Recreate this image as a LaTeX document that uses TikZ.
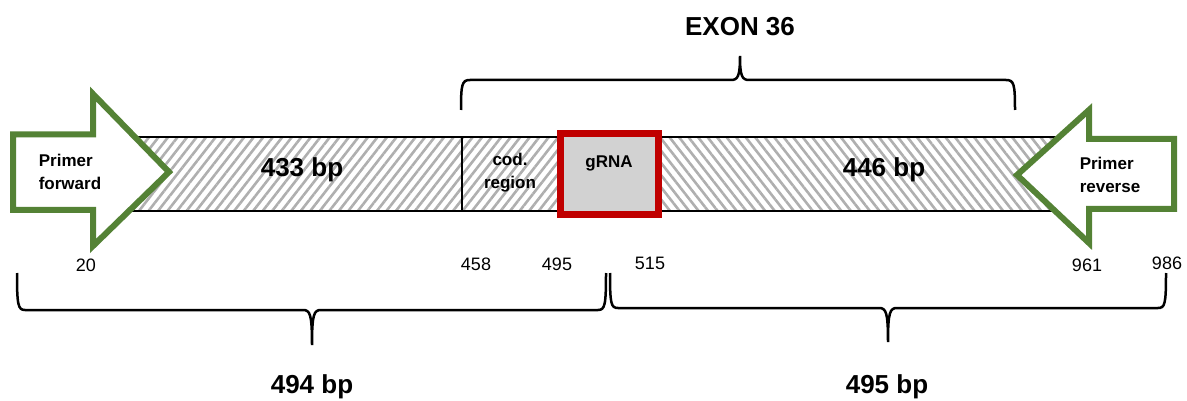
\documentclass[tikz,border=0pt]{standalone}
\usepackage{fontspec}
\setmainfont{Liberation Sans}
\usetikzlibrary{patterns.meta}
\definecolor{pgreen}{RGB}{84,130,53}
\definecolor{gred}{RGB}{192,0,0}
\definecolor{gfill}{RGB}{210,210,210}
\definecolor{hatchc}{RGB}{175,175,175}
\begin{document}
\begin{tikzpicture}[x=1pt,y=-1pt,
  big/.style={font=\bfseries\fontsize{26}{30}\selectfont, inner sep=0pt},
  lab/.style={font=\bfseries\fontsize{17}{23}\selectfont, align=center, inner sep=0pt},
  labl/.style={font=\bfseries\fontsize{17}{23}\selectfont, align=left, inner sep=0pt},
  num/.style={font=\fontsize{18}{20}\selectfont, inner sep=0pt},
  bracel/.style={line width=2.5pt, black},
  arrowline/.style={draw=pgreen, fill=white, line width=6pt, line join=miter},
  hatchfw/.style={pattern={Lines[angle=52,distance=7.5pt,line width=2.6pt]}, pattern color=hatchc},
  hatchbw/.style={pattern={Lines[angle=-52,distance=7.5pt,line width=2.6pt]}, pattern color=hatchc}]
\useasboundingbox (0,0) rectangle (1187,401);
% bar hatching
\path[hatchfw] (90,137) rectangle (560,211);
\path[hatchbw] (660,137) rectangle (1090,211);
\draw[line width=2.6pt] (90,137) -- (1090,137) (90,211) -- (1090,211);
\draw[line width=2pt] (461.5,137) -- (461.5,211);
% gRNA box
\node[draw=gred, fill=gfill, line width=6.5pt, minimum width=98pt, minimum height=81pt, inner sep=0pt] (grna) at (609.5,174) {};
\node[lab] (grnatxt) at (609,163) {gRNA};
\node[lab] (cod) at (510,173) {cod.\\region};
\node[big] (l433) at (302,170) {433 bp};
\node[big] (l446) at (884,170) {446 bp};
% primer arrows
\draw[arrowline] (13,134.5) -- (93,134.5) -- (93,94) -- (169,172) -- (93,246) -- (93,210) -- (13,210) -- cycle;
\draw[arrowline] (1174,139) -- (1089,139) -- (1089,110) -- (1017,175) -- (1089,243) -- (1089,209) -- (1174,209) -- cycle;
\node[labl] (pf) at (70,172) {Primer\\forward};
\node[labl] (pr) at (1110,175) {Primer\\reverse};
% position numbers
\node[num] (n20) at (86,265) {20};
\node[num] (n458) at (476,264) {458};
\node[num] (n495) at (557,264) {495};
\node[num] (n515) at (650,263) {515};
\node[num] (n961) at (1087,265) {961};
\node[num] (n986) at (1167,263) {986};
% braces
\draw[bracel] (461,110) .. controls (461,84) and (462,80) .. (470,80) -- (731,80) .. controls (738,80) and (740,76) .. (740,56) .. controls (740,76) and (742,80) .. (749,80) -- (1006,80) .. controls (1014,80) and (1015,84) .. (1015,110);
\draw[bracel] (17,273) .. controls (17,305) and (18,310) .. (25,310) -- (303,310) .. controls (310,310) and (312,314) .. (312,345) .. controls (312,314) and (314,310) .. (321,310) -- (598,310) .. controls (605,310) and (606,305) .. (606,273);
\draw[bracel] (610,273) .. controls (610,304) and (611,308) .. (618,308) -- (879,308) .. controls (886,308) and (888,312) .. (888,342) .. controls (888,312) and (890,308) .. (897,308) -- (1158,308) .. controls (1165,308) and (1166,304) .. (1166,273);
\node[big] (exon) at (740,27) {EXON 36};
\node[big] (b494) at (312,387) {494 bp};
\node[big] (b495) at (887,387) {495 bp};
\end{tikzpicture}
\end{document}
